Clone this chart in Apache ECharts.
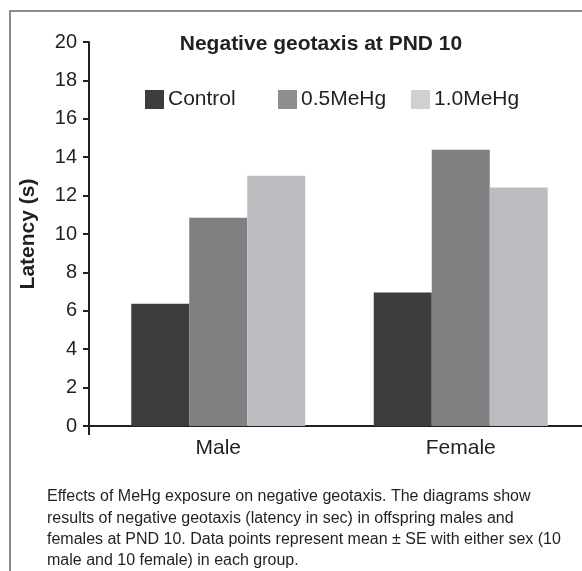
<!DOCTYPE html>
<html><head><meta charset="utf-8">
<script src="https://cdn.jsdelivr.net/npm/echarts@6/dist/echarts.min.js"></script>
<style>html,body{margin:0;padding:0;background:#fff}#c{width:582px;height:571px}</style>
</head><body><div id="c"></div>
<script>
const categories = ['Male', 'Female'];
const seriesNames = ['Control', '0.5MeHg', '1.0MeHg'];
const controlValues = [6.37, 6.95];
const meHg05Values = [10.84, 14.39];
const meHg10Values = [13.04, 12.42];
const yTicks = { min: 0, max: 20, interval: 2 };
const captionLines = [
  'Effects of MeHg exposure on negative geotaxis. The diagrams show',
  'results of negative geotaxis (latency in sec) in offspring males and',
  'females at PND 10. Data points represent mean \u00b1 SE with either sex (10',
  'male and 10 female) in each group.'
];

const barColors = ['#3d3d3d', '#808083', '#bbbcbf'];
const legendColors = ['#3d3d3d', '#8e8e91', '#cfd0d2'];
const font = 'Arial, "Liberation Sans", sans-serif';
const txt = '#231f20';
const seriesData = [controlValues, meHg05Values, meHg10Values];
const legendLefts = [145, 278, 411];

const G = { left: 97, top: 42, right: -5, bottom: 145, yOffset: 8 };
const H = 571, W = 582;
const axisY = H - G.bottom;
const yAxisX = G.left - G.yOffset;

const chart = echarts.init(document.getElementById('c'));
chart.setOption({
  animation: false,
  backgroundColor: '#fff',
  title: {
    text: 'Negative geotaxis at PND 10',
    left: 321, top: 34, textAlign: 'center', padding: 0,
    textStyle: { fontFamily: font, fontWeight: 'bold', fontSize: 21, color: txt }
  },
  legend: seriesNames.map((n, i) => ({
    data: [{ name: n, itemStyle: { color: legendColors[i] } }],
    left: legendLefts[i], top: 89, padding: 0,
    itemWidth: 19, itemHeight: 19, itemGap: 0,
    icon: 'rect',
    textStyle: { fontFamily: font, fontSize: 21, lineHeight: 21, color: txt, padding: [0, 0, 0, -1] }
  })),
  grid: { left: G.left, top: G.top, right: G.right, bottom: G.bottom, containLabel: false },
  xAxis: {
    type: 'category', data: categories,
    axisLine: { lineStyle: { color: txt, width: 2 } },
    axisTick: { length: 10, lineStyle: { color: txt, width: 2 } },
    axisLabel: { fontFamily: font, fontSize: 21, color: txt, margin: 12 }
  },
  yAxis: {
    type: 'value', min: yTicks.min, max: yTicks.max, interval: yTicks.interval,
    offset: G.yOffset,
    name: 'Latency (s)', nameLocation: 'middle', nameGap: 50,
    nameTextStyle: { fontFamily: font, fontWeight: 'bold', fontSize: 21, color: txt },
    axisLine: { show: true, lineStyle: { color: txt, width: 2 } },
    axisTick: { show: true, length: 6, lineStyle: { color: txt, width: 2 } },
    axisLabel: { fontFamily: font, fontSize: 20, color: txt, margin: 12 },
    splitLine: { show: false }
  },
  series: seriesNames.map((n, i) => ({
    name: n, type: 'bar', data: seriesData[i],
    barWidth: 58, barGap: '0%',
    itemStyle: { color: barColors[i] }
  })),
  graphic: [
    { type: 'polyline', shape: { points: [[10, H], [10, 11], [W, 11]] },
      style: { stroke: '#666', lineWidth: 1.5, fill: null } },
    { type: 'polyline', shape: { points: [[G.left, axisY], [yAxisX, axisY], [yAxisX, axisY + 9]] },
      style: { stroke: txt, lineWidth: 2, fill: null } },
    { type: 'group', left: 47, top: 489, children: captionLines.map((t, i) => ({
      type: 'text', left: 0, top: i * 21.3,
      style: { text: t, font: '16px ' + font, fill: txt }
    })) }
  ]
});
</script></body></html>
